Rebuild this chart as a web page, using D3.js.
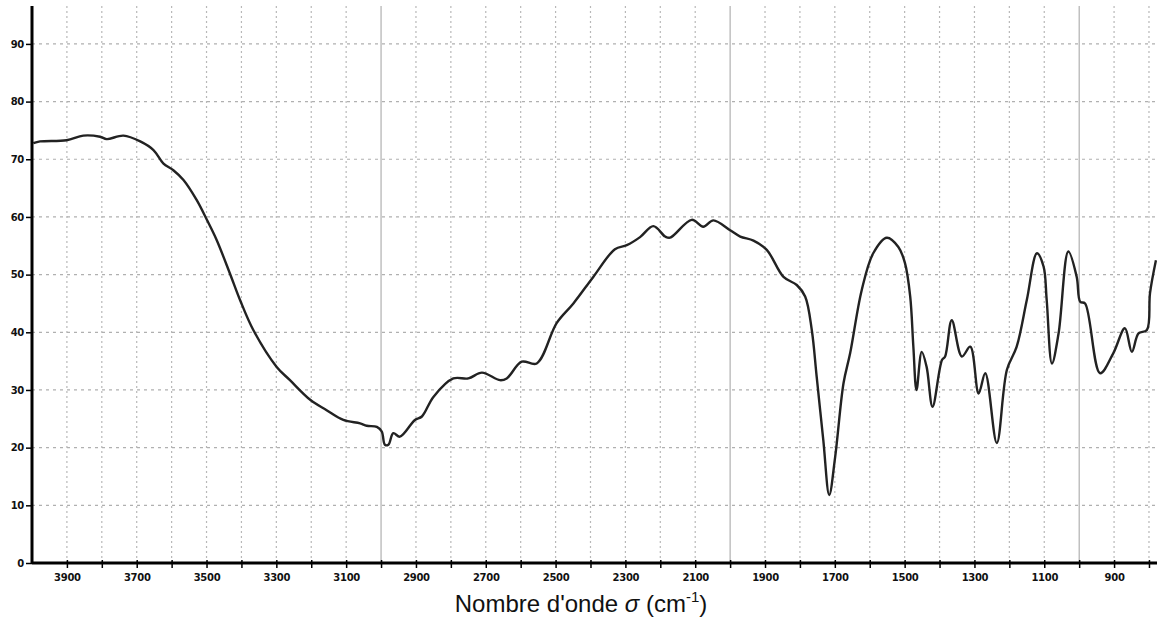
<!DOCTYPE html>
<html>
<head>
<meta charset="utf-8">
<script src="https://cdn.jsdelivr.net/npm/d3@7"></script>
<style>
  body { margin: 0; background: #fff; }
  svg { display: block; }
</style>
</head>
<body>
<div id="chart"></div>
<script>
// spectrum: wavenumber (cm-1) and transmittance (%)
const wavenumbers = [3996, 3977, 3901, 3853, 3805, 3786, 3738, 3690, 3652, 3624, 3595, 3566, 3528, 3499,
  3471, 3433, 3404, 3366, 3299, 3261, 3203, 3156, 3108, 3060, 3041, 3012, 2998, 2989, 2979, 2965,
  2946, 2903, 2883, 2850, 2793, 2750, 2711, 2659, 2640, 2597, 2554, 2497, 2449, 2392, 2330, 2296,
  2258, 2220, 2186, 2172, 2110, 2077, 2048, 2000, 1971, 1933, 1895, 1847, 1809, 1785, 1766, 1752,
  1733, 1716, 1699, 1675, 1656, 1623, 1590, 1551, 1518, 1499, 1484, 1475, 1466, 1451, 1437, 1420,
  1393, 1384, 1365, 1336, 1312, 1288, 1269, 1236, 1207, 1179, 1150, 1121, 1102, 1093, 1078, 1059,
  1031, 1007, 997, 983, 940, 902, 869, 849, 830, 806, 797, 780];
const transmittance = [72.8, 73.1, 73.3, 74.1, 73.9, 73.5, 74.1, 73.1, 71.6, 69.3, 68.1, 66.4, 62.9, 59.5,
  56.0, 50.2, 45.6, 40.4, 34.0, 31.7, 28.3, 26.5, 24.8, 24.2, 23.8, 23.6, 22.8, 20.5, 20.5, 22.5,
  21.9, 24.8, 25.4, 28.8, 32.0, 32.0, 33.0, 31.7, 32.0, 34.9, 34.6, 41.6, 45.0, 49.6, 54.4, 55.1,
  56.5, 58.4, 56.6, 56.4, 59.5, 58.3, 59.4, 57.7, 56.6, 55.9, 54.3, 49.6, 48.2, 46.2, 40.4, 32.3,
  21.3, 11.8, 18.4, 31.2, 36.4, 47.3, 53.7, 56.4, 54.8, 52.0, 46.2, 37.5, 30.0, 36.6, 34.0, 27.1,
  35.2, 35.8, 42.1, 35.8, 37.5, 29.4, 32.9, 20.8, 33.5, 37.5, 45.6, 53.7, 51.4, 45.6, 34.6, 39.8,
  54.0, 49.6, 45.3, 45.0, 32.9, 36.4, 40.7, 36.6, 39.8, 40.4, 46.8, 52.5];

const yTicks = [0, 10, 20, 30, 40, 50, 60, 70, 80, 90];
const xLabelTicks = [3900, 3700, 3500, 3300, 3100, 2900, 2700, 2500, 2300, 2100, 1900, 1700, 1500, 1300, 1100, 900];
const xAllTicks = d3.range(3900, 799, -100);
const solidLines = [3000, 2000, 1000];

const width = 1157, height = 639;
const svg = d3.select("#chart").append("svg")
  .attr("width", width)
  .attr("height", height);

const x = d3.scaleLinear().domain([4000, 777]).range([32, 1157]);
const y = d3.scaleLinear().domain([0, 96.4]).range([563, 7]);

// grid
svg.append("g")
  .selectAll("line")
  .data(xAllTicks.filter(d => !solidLines.includes(d)))
  .join("line")
  .attr("x1", d => x(d)).attr("x2", d => x(d))
  .attr("y1", 6).attr("y2", 563)
  .attr("stroke", "#b8b8b8")
  .attr("stroke-width", 1.2)
  .attr("stroke-dasharray", "2,3");

svg.append("g")
  .selectAll("line")
  .data(yTicks.slice(1))
  .join("line")
  .attr("x1", 32).attr("x2", width)
  .attr("y1", d => y(d)).attr("y2", d => y(d))
  .attr("stroke", "#b0b0b0")
  .attr("stroke-width", 1.2)
  .attr("stroke-dasharray", "3,4");

svg.append("g")
  .selectAll("line")
  .data(solidLines)
  .join("line")
  .attr("x1", d => x(d)).attr("x2", d => x(d))
  .attr("y1", 6).attr("y2", 563)
  .attr("stroke", "#a0a0a0")
  .attr("stroke-width", 1);

// spectrum
const pts = wavenumbers.map((w, i) => [w, transmittance[i]]);
svg.append("path")
  .datum(pts)
  .attr("fill", "none")
  .attr("stroke", "#222")
  .attr("stroke-width", 2.4)
  .attr("stroke-linejoin", "round")
  .attr("d", d3.line()
    .x(d => x(d[0]))
    .y(d => y(d[1]))
    .curve(d3.curveCatmullRom.alpha(0.5)));

// axes
const yAxis = svg.append("g")
  .attr("transform", "translate(32,0)")
  .call(d3.axisLeft(y).tickValues(yTicks).tickSize(6).tickPadding(2));
yAxis.select(".domain").attr("d", "M0,6V563").attr("stroke", "#000").attr("stroke-width", 3);
yAxis.selectAll(".tick line").attr("stroke-width", 1.5);
yAxis.selectAll("text")
  .attr("font-family", "DejaVu Sans")
  .attr("font-size", 10)
  .attr("font-weight", "bold")
  .attr("letter-spacing", -0.3)
  .attr("fill", "#111");

const xAxis = svg.append("g")
  .attr("transform", "translate(0,563)")
  .call(d3.axisBottom(x).tickValues(xAllTicks).tickSize(5).tickPadding(6)
    .tickFormat(d => xLabelTicks.includes(d) ? d : ""));
xAxis.select(".domain").attr("d", "M32,0H1157").attr("stroke", "#000").attr("stroke-width", 3);
xAxis.selectAll(".tick line").attr("stroke-width", 1.5).attr("y1", -3);
xAxis.selectAll("text")
  .attr("font-family", "DejaVu Sans")
  .attr("font-size", 10)
  .attr("font-weight", "bold")
  .attr("letter-spacing", -0.3)
  .attr("fill", "#111");

// axis title
const title = svg.append("text")
  .attr("x", 581)
  .attr("y", 612)
  .attr("text-anchor", "middle")
  .attr("font-family", "Liberation Sans, Arial, sans-serif")
  .attr("font-size", 24)
  .attr("fill", "#111");
title.append("tspan").text("Nombre d'onde ");
title.append("tspan").attr("font-style", "italic").text("σ");
title.append("tspan").text(" (cm");
title.append("tspan").attr("font-size", 15).attr("dy", -10).text("-1");
title.append("tspan").attr("dy", 10).text(")");
</script>
</body>
</html>
